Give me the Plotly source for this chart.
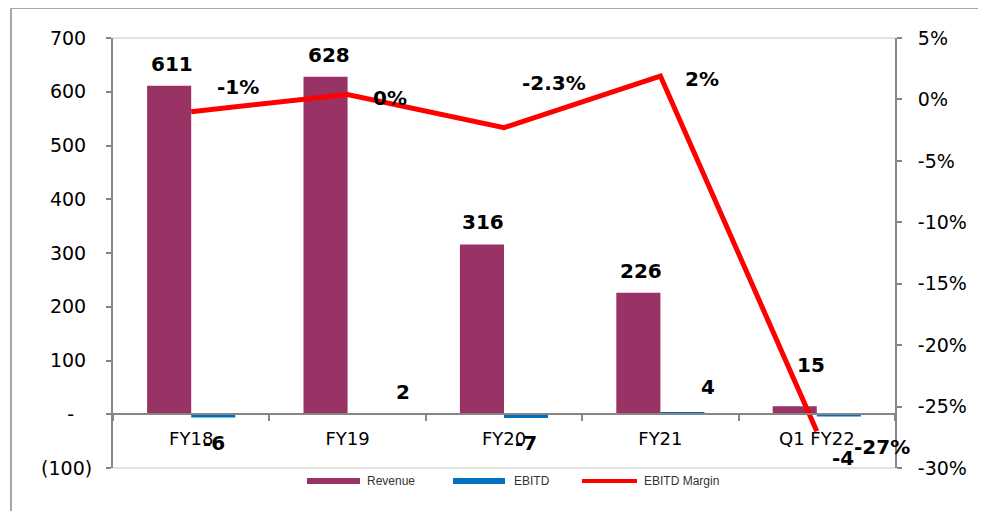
import plotly.graph_objects as go

# ---------------- data ----------------
categories = ["FY18", "FY19", "FY20", "FY21", "Q1 FY22"]
revenue = [611, 628, 316, 226, 15]
ebitd = [-6, 2, -7, 4, -4]
ebitd_margin = [-0.010, 0.004, -0.023, 0.019, -0.270]
margin_labels = ["-1%", "0%", "-2.3%", "2%", "-27%"]

left_tickvals = [-100, 0, 100, 200, 300, 400, 500, 600, 700]
left_ticktext = ["(100)", "-\u2007\u00a0", "100\u00a0", "200\u00a0", "300\u00a0",
                 "400\u00a0", "500\u00a0", "600\u00a0", "700\u00a0"]
right_tickvals = [0.05, 0.0, -0.05, -0.10, -0.15, -0.20, -0.25, -0.30]
right_ticktext = ["5%", "0%", "-5%", "-10%", "-15%", "-20%", "-25%", "-30%"]

# ---------------- styling / label offsets (px) ----------------
W, H = 986, 511
OFF = 8  # page body margin
L, R, T, B = 113, 91, 38, 43
PW, PH = W - L - R, H - T - B
FONT = "DejaVu Sans"
REV_COLOR = "#993366"
EB_COLOR = "#0070C0"
LINE_COLOR = "#FF0000"
AX_COLOR = "#868686"

rev_off = [(-19, 22), (-19, 22), (-21, 22), (-19, 22), (-6, 41)]
eb_off = [(23, -26), (55, 21), (22, -25), (48, 25), (26, -42)]
mg_off = [(47, 25), (42, -3), (50, 45), (42, -3), (65, -16)]

ymin, ymax = left_tickvals[0], left_tickvals[-1]
y2min, y2max = min(right_tickvals), max(right_tickvals)


def px_x(p):
    return (p - L) / PW


def px_y(p):
    return (T + PH - p) / PH


fig = go.Figure()
fig.add_trace(go.Bar(x=categories, y=revenue, name="Revenue",
                     marker=dict(color=REV_COLOR, line=dict(width=0))))
fig.add_trace(go.Bar(x=categories, y=ebitd, name="EBITD",
                     marker=dict(color=EB_COLOR, line=dict(width=0))))
fig.add_trace(go.Scatter(x=categories, y=ebitd_margin, name="EBITD Margin",
                         mode="lines", yaxis="y2",
                         line=dict(color=LINE_COLOR, width=5)))

lab_font = dict(family=FONT, size=20, color="#000000", weight="bold")
ann = []
for c, v, (dx, dy) in zip(categories, revenue, rev_off):
    ann.append(dict(x=c, y=v, xref="x", yref="y", text=str(v), showarrow=False,
                    xshift=dx, yshift=dy, font=lab_font))
for c, v, (dx, dy) in zip(categories, ebitd, eb_off):
    ann.append(dict(x=c, y=v, xref="x", yref="y", text=str(v), showarrow=False,
                    xshift=dx, yshift=dy, font=lab_font))
for c, v, t, (dx, dy) in zip(categories, ebitd_margin, margin_labels, mg_off):
    ann.append(dict(x=c, y=v, xref="x", yref="y2", text=t, showarrow=False,
                    xshift=dx, yshift=dy, font=lab_font))

# custom legend
leg_font = dict(family="Liberation Sans", size=12, color="#333333")
shapes = []
legend_items = [("Revenue", REV_COLOR, "rect", 307, 360, 365),
                ("EBITD", EB_COLOR, "rect", 453, 505, 512),
                ("EBITD Margin", LINE_COLOR, "line", 582, 637, 642)]
for name, col, kind, x0, x1, tx in legend_items:
    if kind == "rect":
        shapes.append(dict(type="rect", xref="paper", yref="paper",
                           x0=px_x(x0), x1=px_x(x1), y0=px_y(484), y1=px_y(478),
                           fillcolor=col, line=dict(width=0)))
    else:
        shapes.append(dict(type="line", xref="paper", yref="paper",
                           x0=px_x(x0), x1=px_x(x1), y0=px_y(481), y1=px_y(481),
                           line=dict(color=col, width=4)))
    ann.append(dict(x=px_x(tx), y=px_y(481), xref="paper", yref="paper",
                    text=name, showarrow=False, xanchor="left", yanchor="middle",
                    font=leg_font))

# plot frame top / bottom light lines
for yy in (0, 1):
    shapes.append(dict(type="line", xref="paper", yref="paper", x0=0, x1=1,
                       y0=yy, y1=yy, line=dict(color="#D9D9D9", width=1.5)))
# outer border (slide frame)
shapes.append(dict(type="line", xref="paper", yref="paper",
                   x0=px_x(11), x1=px_x(W + 5), y0=px_y(8), y1=px_y(8),
                   line=dict(color="#A6A6A6", width=2)))
shapes.append(dict(type="line", xref="paper", yref="paper",
                   x0=px_x(11), x1=px_x(11), y0=px_y(8), y1=px_y(H + 5),
                   line=dict(color="#A6A6A6", width=2)))

tick_font = dict(family=FONT, size=19, color="#000000")
fig.update_layout(
    width=W - OFF, height=H - OFF,
    margin=dict(l=L - OFF, r=R, t=T - OFF, b=B, pad=0),
    paper_bgcolor="white", plot_bgcolor="white",
    barmode="group", bargap=0.436, bargroupgap=0,
    showlegend=False,
    xaxis=dict(range=[-0.5, len(categories) - 0.5], autorange=False,
               anchor="free", position=(0 - ymin) / (ymax - ymin),
               showline=True, linecolor=AX_COLOR, linewidth=2,
               ticks="outside", tickson="boundaries", ticklen=6, tickcolor=AX_COLOR,
               tickwidth=2, showgrid=False, tickfont=dict(family=FONT, size=18, color="#000000"),
               ticklabelstandoff=8),
    yaxis=dict(range=[ymin, ymax], tickvals=left_tickvals, ticktext=left_ticktext,
               showline=True, linecolor=AX_COLOR, linewidth=2, ticks="outside",
               ticklen=5, tickcolor=AX_COLOR, tickwidth=2, showgrid=False,
               zeroline=False, tickfont=tick_font, ticklabelstandoff=10),
    yaxis2=dict(range=[y2min, y2max], tickvals=right_tickvals, ticktext=right_ticktext,
                overlaying="y", side="right", showline=True, linecolor=AX_COLOR,
                linewidth=2, ticks="outside", ticklen=5, tickcolor=AX_COLOR,
                tickwidth=2, showgrid=False, zeroline=False, tickfont=tick_font,
                ticklabelstandoff=12),
    annotations=ann, shapes=shapes,
)

fig.write_html("out.html")
